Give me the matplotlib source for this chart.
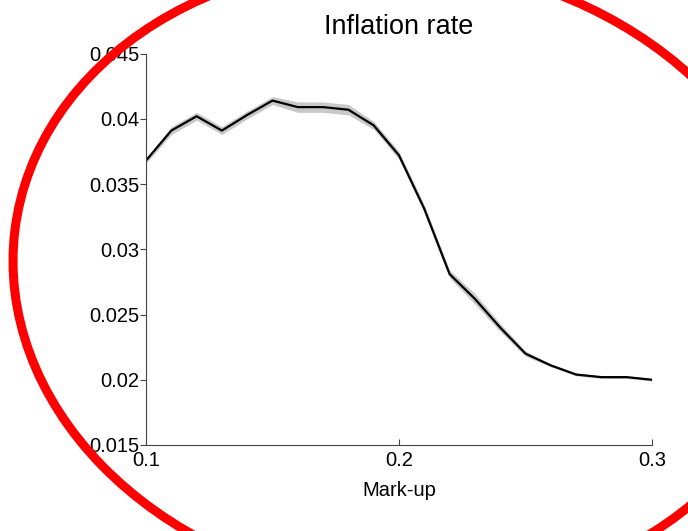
import matplotlib
matplotlib.use("Agg")
import matplotlib.pyplot as plt
from matplotlib.patches import Ellipse
import numpy as np

plt.rcParams["font.family"] = ["Liberation Sans", "DejaVu Sans"]

markup = [0.10, 0.11, 0.12, 0.13, 0.14, 0.15, 0.16, 0.17, 0.18, 0.19, 0.20,
          0.21, 0.22, 0.23, 0.24, 0.25, 0.26, 0.27, 0.28, 0.29, 0.30]
inflation = [0.0368, 0.0391, 0.0402, 0.0391, 0.0403, 0.0414, 0.0409, 0.0409, 0.0407, 0.0395, 0.0372,
             0.0331, 0.0281, 0.0262, 0.0240, 0.0220, 0.0211, 0.0204, 0.0202, 0.0202, 0.0200]
band = [0.0002, 0.0003, 0.0003, 0.0003, 0.0003, 0.0003, 0.0004, 0.0004, 0.0004, 0.0003, 0.0003,
        0.0003, 0.0003, 0.0004, 0.0003, 0.0002, 0.0001, 0.0001, 0.0001, 0.0001, 0.0001]
yticks = [0.015, 0.02, 0.025, 0.03, 0.035, 0.04, 0.045]
ytick_labels = ["0.015", "0.02", "0.025", "0.03", "0.035", "0.04", "0.045"]
xticks = [0.1, 0.2, 0.3]

x = np.array(markup)
y = np.array(inflation)
b = np.array(band)

fig = plt.figure(figsize=(6.88, 5.31), dpi=100)
ax = fig.add_axes([0.2122, 0.162, 0.7355, 0.737])

ax.fill_between(x, y - b, y + b, color="#c8c8c8", linewidth=0)
ax.plot(x, y, color="black", linewidth=1.6)

ax.set_xlim(0.1, 0.3)
ax.set_ylim(0.015, 0.045)
ax.set_xticks(xticks)
ax.set_xticklabels(["0.1", "0.2", "0.3"])
ax.set_yticks(yticks)
ax.set_yticklabels(ytick_labels)
for side in ["top", "right"]:
    ax.spines[side].set_visible(False)
for side in ["left", "bottom"]:
    ax.spines[side].set_color("#444444")
    ax.spines[side].set_linewidth(0.8)
ax.tick_params(axis="x", direction="in", length=4, labelsize=14.5, pad=4, color="#444444")
ax.tick_params(axis="y", direction="out", length=4, labelsize=14.5, pad=1, color="#444444")
ax.set_xlabel("Mark-up", fontsize=14.5, labelpad=8)
ax.set_title("Inflation rate", fontsize=19.5, pad=14)

# hand-drawn red ring on top of the chart
over = fig.add_axes([0, 0, 1, 1], facecolor="none")
over.set_xlim(0, 688)
over.set_ylim(531, 0)
over.axis("off")
over.add_patch(Ellipse((404, 278), 784, 630, angle=7, fill=False,
                       edgecolor="#ff0000", linewidth=6.5))

fig.savefig("out.png", dpi=100)
